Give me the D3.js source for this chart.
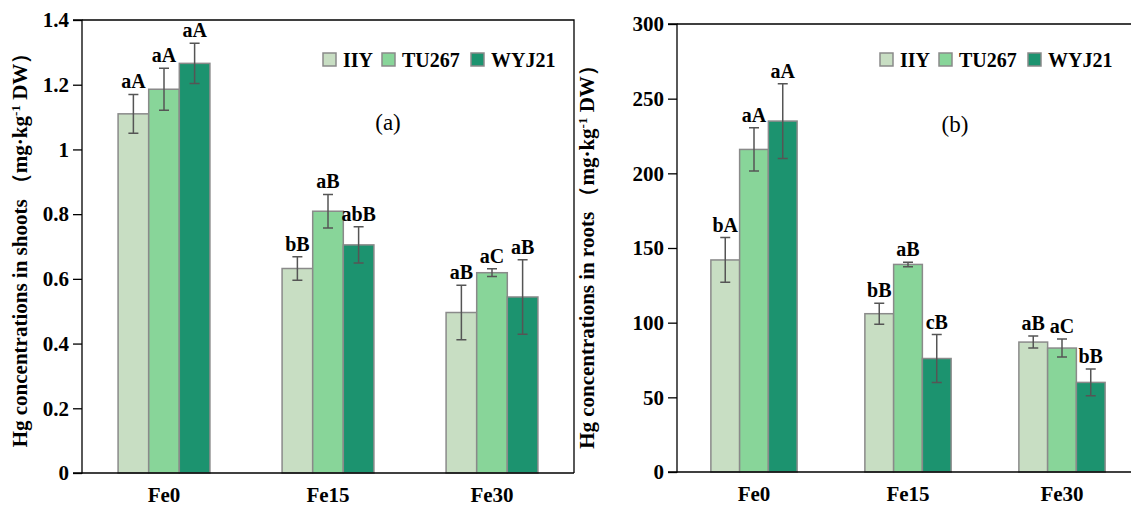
<!DOCTYPE html>
<html>
<head>
<meta charset="utf-8">
<script src="https://cdn.jsdelivr.net/npm/d3@7"></script>
<style>
  body { margin: 0; background: #fff; }
  svg text { font-family: "Liberation Serif", "Times New Roman", serif; }
</style>
</head>
<body>
<svg id="chart" width="1131" height="509"></svg>
<script>
// data
var groups = ["Fe0", "Fe15", "Fe30"];
var cultivars = ["IIY", "TU267", "WYJ21"];
var colors = ["#c8dec3", "#88d599", "#1c936f"];

// shoots (a)
var shootMean = [[1.11, 1.186, 1.266], [0.632, 0.809, 0.705], [0.496, 0.619, 0.544]];
var shootErr = [[0.06, 0.065, 0.062], [0.036, 0.052, 0.056], [0.084, 0.012, 0.115]];
var shootLetters = [["aA", "aA", "aA"], ["bB", "aB", "abB"], ["aB", "aC", "aB"]];
var shootTicks = [0, 0.2, 0.4, 0.6, 0.8, 1, 1.2, 1.4];

// roots (b)
var rootMean = [[142, 216, 235], [106, 139, 76], [87, 83, 60]];
var rootErr = [[15, 14.5, 25], [7, 1.5, 16], [4, 6, 9]];
var rootLetters = [["bA", "aA", "aA"], ["bB", "aB", "cB"], ["aB", "aC", "bB"]];
var rootTicks = [0, 50, 100, 150, 200, 250, 300];

var svg = d3.select("#chart");

function panel(opt) {
    var g = svg.append("g");
    var x0 = d3.scaleBand().domain(groups).range([opt.left, opt.right])
        .paddingInner(0.44).paddingOuter(0.22);
    var x1 = d3.scaleBand().domain(cultivars).range([0, x0.bandwidth()]);
    var y = d3.scaleLinear().domain([0, opt.max]).range([opt.bottom, opt.top]);

    // frame (top + right)
    g.append("path")
        .attr("d", `M${opt.left},${opt.top}H${opt.right}V${opt.bottom}`)
        .attr("fill", "none").attr("stroke", "#000").attr("stroke-width", 1.3);

    // bars
    groups.forEach(function(grp, i) {
        cultivars.forEach(function(c, j) {
            var bx = x0(grp) + x1(c);
            var m = opt.mean[i][j], e = opt.err[i][j];
            g.append("rect")
                .attr("x", bx).attr("y", y(m))
                .attr("width", x1.bandwidth()).attr("height", y(0) - y(m))
                .attr("fill", colors[j]).attr("stroke", "#8a8a8a").attr("stroke-width", 1.5);
            var cx = bx + x1.bandwidth() / 2;
            g.append("path")
                .attr("d", `M${cx - 5},${y(m + e)}H${cx + 5}M${cx},${y(m + e)}V${y(m - e)}M${cx - 5},${y(m - e)}H${cx + 5}`)
                .attr("stroke", "#555").attr("stroke-width", 1.5).attr("fill", "none");
            g.append("text")
                .attr("x", cx).attr("y", y(m + e) - 6)
                .attr("text-anchor", "middle")
                .style("font-size", "20px").style("font-weight", "bold")
                .text(opt.letters[i][j]);
        });
    });

    // axes
    var yAxis = g.append("g")
        .attr("transform", `translate(${opt.left},0)`)
        .call(d3.axisLeft(y).tickValues(opt.ticks).tickSize(9).tickPadding(4).tickFormat(d3.format("~g")));
    yAxis.selectAll("line, path").attr("stroke", "#000").attr("stroke-width", 1.3);
    yAxis.select(".domain").attr("d", `M${-9},${opt.top}H0V${opt.bottom}H-9`);
    yAxis.selectAll("text").style("font-size", "21px").style("font-weight", "bold")
        .style("font-family", "Liberation Serif, serif").attr("fill", "#000");

    var xAxis = g.append("g")
        .attr("transform", `translate(0,${opt.bottom})`)
        .call(d3.axisBottom(x0).tickSize(0).tickPadding(14));
    xAxis.select(".domain").attr("d", `M${opt.left},0H${opt.right}`).attr("stroke", "#000").attr("stroke-width", 1.3);
    xAxis.selectAll("text").style("font-size", "21px").style("font-weight", "bold")
        .style("font-family", "Liberation Serif, serif").attr("fill", "#000");

    // axis title
    var t = g.append("text")
        .attr("transform", `translate(${opt.titleX},${opt.titleY}) rotate(-90)`)
        .attr("text-anchor", "middle")
        .style("font-size", "21px").style("font-weight", "bold");
    t.append("tspan").text(opt.title);
    t.append("tspan").text("（mg·kg");
    t.append("tspan").attr("dy", -7).style("font-size", "13px").text("-1");
    t.append("tspan").attr("dy", 7).text(" DW）");

    // panel tag
    g.append("text")
        .attr("x", opt.tagX).attr("y", opt.tagY)
        .attr("text-anchor", "middle")
        .style("font-size", "23px")
        .text(opt.tag);

    // legend
    var lg = g.append("g").attr("transform", `translate(${opt.legX},${opt.legY})`);
    var offs = [0, 59, 148];
    cultivars.forEach(function(c, j) {
        lg.append("rect")
            .attr("x", offs[j]).attr("y", -7)
            .attr("width", 13).attr("height", 13)
            .attr("fill", colors[j]).attr("stroke", "#8a8a8a").attr("stroke-width", 1.5);
        lg.append("text")
            .attr("x", offs[j] + 20).attr("y", 7)
            .style("font-size", "20px").style("font-weight", "bold")
            .text(c);
    });
}

panel({
    left: 82, right: 574, top: 20, bottom: 473, max: 1.4,
    mean: shootMean, err: shootErr, letters: shootLetters, ticks: shootTicks,
    title: "Hg concentrations  in shoots ", titleX: 27, titleY: 245,
    tag: "(a)", tagX: 388, tagY: 130, legX: 323, legY: 60
});

panel({
    left: 677, right: 1139, top: 24, bottom: 472, max: 300,
    mean: rootMean, err: rootErr, letters: rootLetters, ticks: rootTicks,
    title: "Hg concentrations  in roots ", titleX: 594, titleY: 252,
    tag: "(b)", tagX: 955, tagY: 132, legX: 880, legY: 60
});
</script>
</body>
</html>
